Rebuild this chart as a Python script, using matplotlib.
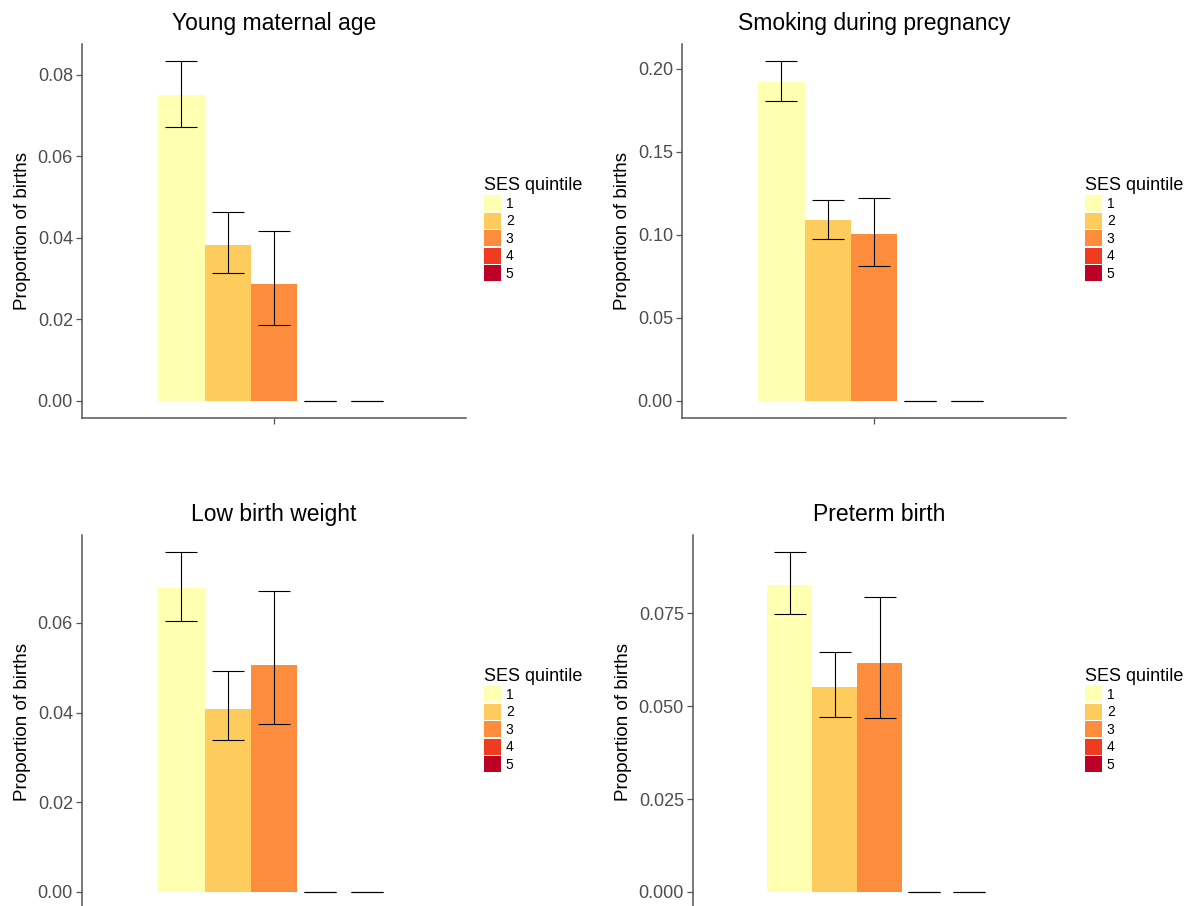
import numpy as np
import matplotlib
matplotlib.use('Agg')
import matplotlib.pyplot as plt
from matplotlib.patches import Patch

plt.rcParams['font.family'] = ['Liberation Sans', 'DejaVu Sans']

# data
quintiles = ['1', '2', '3', '4', '5']
ses_colors = ['#FFFFB2', '#FECC5C', '#FD8D3C', '#F03B20', '#BD0026']

titles = ['Young maternal age', 'Smoking during pregnancy',
          'Low birth weight', 'Preterm birth']

young_mean = [0.0751, 0.0383, 0.0286, 0.0, 0.0]
young_lo = [0.0673, 0.0314, 0.0186, 0.0, 0.0]
young_hi = [0.0834, 0.0462, 0.0417, 0.0, 0.0]

smoke_mean = [0.1922, 0.1089, 0.1004, 0.0, 0.0]
smoke_lo = [0.1805, 0.0976, 0.0813, 0.0, 0.0]
smoke_hi = [0.2047, 0.1211, 0.1220, 0.0, 0.0]

lbw_mean = [0.0677, 0.0409, 0.0507, 0.0, 0.0]
lbw_lo = [0.0604, 0.0338, 0.0374, 0.0, 0.0]
lbw_hi = [0.0758, 0.0492, 0.0672, 0.0, 0.0]

pre_mean = [0.0827, 0.0553, 0.0616, 0.0, 0.0]
pre_lo = [0.0747, 0.0470, 0.0469, 0.0, 0.0]
pre_hi = [0.0915, 0.0646, 0.0793, 0.0, 0.0]

y_ticks = [
    [0.00, 0.02, 0.04, 0.06, 0.08],
    [0.00, 0.05, 0.10, 0.15, 0.20],
    [0.00, 0.02, 0.04, 0.06],
    [0.000, 0.025, 0.050, 0.075],
]
y_fmt = ['%.2f', '%.2f', '%.2f', '%.3f']

panels = [
    (young_mean, young_lo, young_hi),
    (smoke_mean, smoke_lo, smoke_hi),
    (lbw_mean, lbw_lo, lbw_hi),
    (pre_mean, pre_lo, pre_hi),
]

W, H = 1195, 906
fig = plt.figure(figsize=(W / 100, H / 100), dpi=100)

# axes boxes in pixels: left, right, top, bottom
boxes = [(82, 466, 44, 417.5), (682, 1066, 44, 417.5),
         (82, 466, 535, 909), (693, 1066, 535, 909)]
legend_xy = [(484, 177), (1085, 177), (484, 668), (1085, 668)]

bar_w = 0.1447
offsets = (np.arange(5) - 2) * bar_w

for i, (mean, lo, hi) in enumerate(panels):
    l, r, t, b = boxes[i]
    ax = fig.add_axes([l / W, 1 - b / H, (r - l) / W, (b - t) / H])
    mean = np.array(mean)
    lo = np.array(lo)
    hi = np.array(hi)

    ax.bar(offsets, mean, width=bar_w, color=ses_colors, linewidth=0)
    ax.errorbar(offsets, mean, yerr=[mean - lo, hi - mean], fmt='none',
                ecolor='black', elinewidth=0.8, capsize=11.2, capthick=0.8)

    top = max(hi)
    ax.set_ylim(-0.05 * top, 1.05 * top)
    ax.set_xlim(-0.6, 0.6)
    ax.set_xticks([0])
    ax.set_xticklabels([''])
    ax.set_yticks(y_ticks[i])
    ax.set_yticklabels([y_fmt[i] % v for v in y_ticks[i]])

    for s in ['top', 'right']:
        ax.spines[s].set_visible(False)
    for s in ['left', 'bottom']:
        ax.spines[s].set_color('#555555')
        ax.spines[s].set_linewidth(1.1)
    ax.tick_params(axis='both', colors='#555555', width=0.9, length=4,
                   labelsize=13, labelcolor='#4D4D4D', pad=2.5)

    ax.set_ylabel('Proportion of births', fontsize=13.5, labelpad=5)
    ax.set_title(titles[i], fontsize=16.5, pad=10)

    handles = [Patch(facecolor=c, edgecolor='none') for c in ses_colors]
    lx, ly = legend_xy[i]
    fig.legend(handles, quintiles, title='SES quintile', loc='upper left',
               bbox_to_anchor=(lx / W, 1 - ly / H), frameon=False,
               fontsize=10, title_fontsize=13, handlelength=1.22,
               handleheight=1.4, labelspacing=0.1, handletextpad=0.35,
               borderpad=0, borderaxespad=0, alignment='left')

fig.savefig('out.png', dpi=100)
